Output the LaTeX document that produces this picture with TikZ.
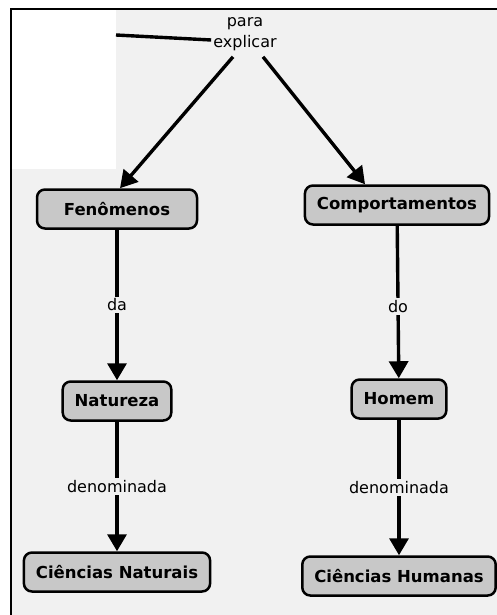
\documentclass[tikz,border=0pt]{standalone}
\usepackage{fontspec}
\setmainfont{DejaVu Sans}
\usepackage{tikz}
\usetikzlibrary{
  arrows.meta,
  positioning
}
\definecolor{PaperGray}{RGB}{241, 241, 241}
\definecolor{BoxGray}{RGB}{200, 200, 200}
\tikzset{
  concept/.style={rectangle, draw=black, line width=2.5pt, fill=BoxGray,
    rounded corners=8pt, inner xsep=12pt, minimum height=39pt,
    font=\fontsize{16.5}{19}\selectfont\bfseries},
  linkword/.style={inner sep=2pt, fill=PaperGray, align=center,
    font=\fontsize{16}{21}\selectfont},
  link/.style={line width=3.4pt},
  linkarrow/.style={link, -{Triangle[length=17pt, width=19pt]}}
}

\begin{document}
\begin{tikzpicture}[x=1pt, y=-1pt]
  \useasboundingbox (0,0) rectangle (496,615);
  % paper and frame
  \fill[PaperGray] (11,9) rectangle (510,630);
  \fill[white] (11,9) rectangle (116,169);
  \draw[line width=2.6pt] (11,9) rectangle (510,630);

  % concepts
  \node[linkword] (para) at (245,34) {para\\explicar};
  \node[concept, minimum width=160pt] (fen) at (117,209) {Fenômenos};
  \node[concept] (comp) at (397,205) {Comportamentos};
  \node[concept] (nat) at (117,401) {Natureza};
  \node[concept] (hom) at (399,399) {Homem};
  \node[concept] (cnat) at (117,572) {Ciências Naturais};
  \node[concept] (chum) at (399,576) {Ciências Humanas};
  \coordinate (incoming) at (116,35);

  % links
  \draw[link] (incoming) -- ([yshift=-6pt]para.west);
  \draw[linkarrow] ([xshift=-12pt,yshift=-4pt]para.south) -- ([xshift=3pt]fen.north);
  \draw[linkarrow] ([xshift=18pt,yshift=-4pt]para.south) -- ([xshift=-32pt]comp.north);
  \draw[linkarrow] (fen) -- node[linkword] {da} (nat);
  \draw[linkarrow] (comp) -- node[linkword, pos=0.53] {do} (hom);
  \draw[linkarrow] (nat) -- node[linkword] {denominada} (cnat);
  \draw[linkarrow] (hom) -- node[linkword] {denominada} (chum);
\end{tikzpicture}
\end{document}
